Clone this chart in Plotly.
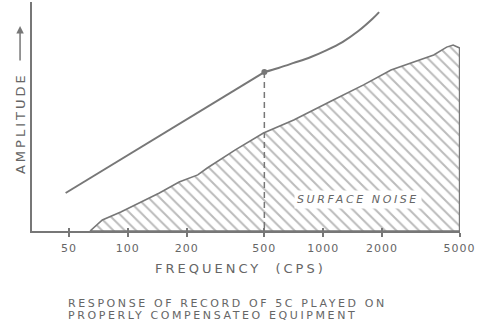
import math
import plotly.graph_objects as go

# ---- data (frequency in cps, amplitude in relative units 0-100) ----
tick_freqs = [50, 100, 200, 500, 1000, 2000, 5000]
tick_labels = ["50", "100", "200", "500", "1000", "2000", "5000"]

response_freq = [48, 500, 591, 707, 866, 1044, 1256, 1509, 1796, 1935]
response_amp = [16.6, 69.4, 71.2, 73.4, 76.0, 79.0, 82.5, 87.2, 92.8, 95.6]

noise_freq = [64, 74, 92, 116, 145, 183, 228, 255, 355, 495, 707, 1127,
              1611, 2226, 3684, 4292, 4632, 5000, 5000, 64]
noise_amp = [0, 4.8, 8.3, 12.7, 16.6, 21.4, 24.5, 27.5, 35.4, 42.8, 48.5,
             57.2, 63.8, 70.3, 76.9, 80.3, 81.2, 79.9, 0, 0]

crossover_freq = 500
crossover_amp = 69.4

GRAY = "#777777"
TEXT = "#666666"
FONT = "DejaVu Sans"

W, H = 478, 325
L, R, T, B = 32, 16, 2, 94
PW, PH = W - L - R, H - T - B


def px(x):
    return (x - L) / PW


def py(y):
    return (H - B - y) / PH


def spaced(s, sp):
    return f'<span style="letter-spacing:{sp}px">{s}</span>'


fig = go.Figure()

# surface noise hatched area
fig.add_trace(go.Scatter(
    x=noise_freq, y=noise_amp, mode="lines", fill="toself",
    line=dict(color=GRAY, width=1.6),
    fillcolor="rgba(0,0,0,0)",
    fillpattern=dict(shape="\\", fgcolor=GRAY, bgcolor="white",
                     size=8, solidity=0.25),
    hoverinfo="skip", showlegend=False))

# dashed drop line at crossover
fig.add_trace(go.Scatter(
    x=[crossover_freq, crossover_freq], y=[crossover_amp, 0], mode="lines",
    line=dict(color=GRAY, width=1.5, dash="6px,4px"),
    hoverinfo="skip", showlegend=False))

# response curve: straight rise to the crossover, then a smooth upturn
fig.add_trace(go.Scatter(
    x=response_freq[:2], y=response_amp[:2], mode="lines",
    line=dict(color=GRAY, width=2),
    hoverinfo="skip", showlegend=False))
fig.add_trace(go.Scatter(
    x=response_freq[1:], y=response_amp[1:], mode="lines",
    line=dict(color=GRAY, width=2, shape="spline", smoothing=1.0),
    hoverinfo="skip", showlegend=False))

# crossover dot
fig.add_trace(go.Scatter(
    x=[crossover_freq], y=[crossover_amp], mode="markers",
    marker=dict(color=GRAY, size=6),
    hoverinfo="skip", showlegend=False))

# helper trace for the inside tick overlay axis
fig.add_trace(go.Scatter(
    x=[tick_freqs[0]], y=[None], xaxis="x2", mode="lines",
    hoverinfo="skip", showlegend=False))

xrange_ = [1.509, math.log10(5000) + 0.002]

fig.update_layout(
    width=W, height=H,
    margin=dict(l=L, r=R, t=T, b=B),
    paper_bgcolor="white", plot_bgcolor="white",
    font=dict(family=FONT, color=TEXT, size=11),
    xaxis=dict(
        type="log", range=xrange_,
        showgrid=False, zeroline=False,
        showline=True, linecolor=GRAY, linewidth=2,
        ticks="outside", ticklen=4, tickwidth=1.5, tickcolor=GRAY,
        tickmode="array", tickvals=tick_freqs,
        ticktext=[spaced(t, 1) for t in tick_labels],
        tickfont=dict(size=11, color=TEXT, family=FONT),
        ticklabelstandoff=2, ticklabeloverflow="allow",
    ),
    xaxis2=dict(
        type="log", range=xrange_, overlaying="x", anchor="y", side="bottom",
        showgrid=False, zeroline=False, showline=False,
        ticks="inside", ticklen=3, tickwidth=1.5, tickcolor=GRAY,
        tickmode="array", tickvals=tick_freqs, showticklabels=False,
    ),
    yaxis=dict(
        range=[0, 100], showgrid=False, zeroline=False,
        showline=True, linecolor=GRAY, linewidth=2,
        showticklabels=False, ticks="",
    ),
    annotations=[
        dict(xref="paper", yref="paper", x=px(20), y=py(123),
             text=spaced("AMPLITUDE", 3), textangle=-90, showarrow=False,
             font=dict(size=13, color=TEXT, family=FONT),
             xanchor="center", yanchor="middle"),
        dict(xref="paper", yref="paper", x=px(20), y=py(26),
             ax=0, ay=36, axref="pixel", ayref="pixel",
             text="", showarrow=True, arrowhead=2, arrowsize=1,
             arrowwidth=1.5, arrowcolor=GRAY),
        dict(xref="paper", yref="paper", x=px(241), y=py(268),
             text=spaced("FREQUENCY  (CPS)", 3), showarrow=False,
             font=dict(size=13, color=TEXT, family=FONT),
             xanchor="center", yanchor="middle"),
        dict(xref="paper", yref="paper", x=px(66), y=py(303),
             text=spaced("RESPONSE OF RECORD OF 5C PLAYED ON", 2.6),
             showarrow=False, font=dict(size=11, color=TEXT, family=FONT),
             xanchor="left", yanchor="middle"),
        dict(xref="paper", yref="paper", x=px(66), y=py(315),
             text=spaced("PROPERLY COMPENSATEO EQUIPMENT", 2.6),
             showarrow=False, font=dict(size=11, color=TEXT, family=FONT),
             xanchor="left", yanchor="middle"),
        dict(xref="paper", yref="paper", x=px(360), y=py(199),
             text="<i>" + spaced("SURFACE NOISE", 2.6) + "</i>",
             showarrow=False, bgcolor="white", borderpad=2,
             font=dict(size=11, color=TEXT, family=FONT),
             xanchor="center", yanchor="middle"),
    ],
)

fig.write_html(
    "out.html",
    config={"displayModeBar": False},
    post_script="document.body.style.margin='0';document.body.style.padding='0';",
)
